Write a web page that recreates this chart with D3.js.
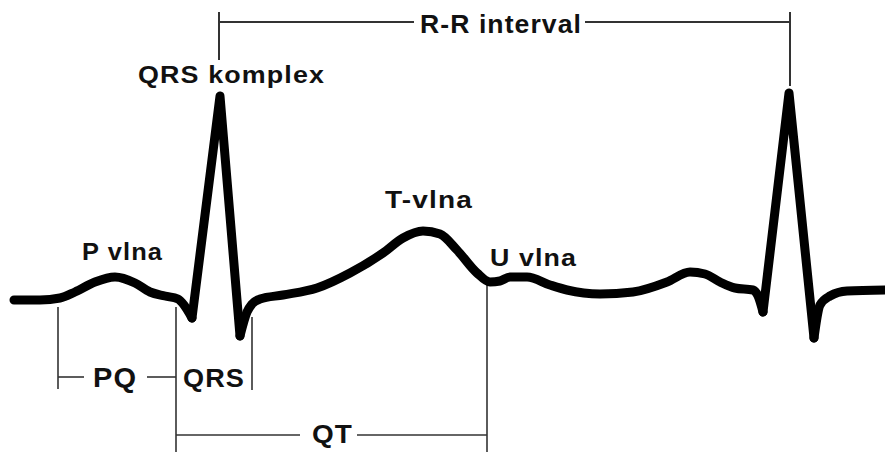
<!DOCTYPE html>
<html>
<head>
<meta charset="utf-8">
<script src="https://cdn.jsdelivr.net/npm/d3@7"></script>
<style>
  body { margin: 0; background: #fff; }
  text { font-family: "Liberation Sans", Arial, sans-serif; font-weight: bold; fill: #111; letter-spacing: 1px; }
</style>
</head>
<body>
<script>
// ECG trace, time in ms and amplitude in mV
const timeMs = [28, 80, 120, 150, 190, 230, 270, 300, 330, 356, 368, 384, 440, 480, 494, 504, 520, 566, 634, 700, 766, 806, 846, 880, 914, 954, 980, 1000, 1020, 1054, 1100, 1134, 1200, 1266, 1334, 1380, 1410, 1440, 1470, 1506, 1516, 1526, 1578, 1628, 1640, 1660, 1694, 1770];
const voltage = [-0.01, -0.01, 0, 0.03, 0.08, 0.105, 0.075, 0.03, 0.01, -0.005, -0.035, -0.1, 1.01, -0.19, -0.07, -0.03, -0.005, 0.015, 0.05, 0.125, 0.225, 0.3, 0.335, 0.32, 0.24, 0.125, 0.08, 0.085, 0.105, 0.105, 0.065, 0.04, 0.02, 0.03, 0.08, 0.13, 0.12, 0.08, 0.05, 0.04, 0.01, -0.07, 1.025, -0.2, -0.035, 0.01, 0.035, 0.04];

// indexes where the trace runs straight (Q -> R -> S)
const spikes = [[11, 13], [41, 43]];

// timing marks (ms)
const rPeaks = [438, 1580];
const pqStart = 116;
const qStart = 352;
const qrsEnd = 504;
const tEnd = 974;

const waveLabels = ["P vlna", "QRS komplex", "T-vlna", "U vlna"];
const intervalLabels = ["R-R interval", "PQ", "QRS", "QT"];

const width = 885;
const height = 452;

const x = d3.scaleLinear().domain([0, 1770]).range([0, width]);
const y = d3.scaleLinear().domain([-0.77, 1.49]).range([height, 0]);

const svg = d3.select("body").append("svg")
  .attr("width", width)
  .attr("height", height);

svg.append("rect").attr("width", width).attr("height", height).attr("fill", "#fff");

const points = timeMs.map((t, i) => [t, voltage[i]]);

// split the trace into smooth pieces and straight spikes
const pieces = [];
let from = 0;
spikes.forEach(([a, b]) => {
  pieces.push({ pts: points.slice(from, a + 1), curve: d3.curveMonotoneX });
  pieces.push({ pts: points.slice(a, b + 1), curve: d3.curveLinear });
  from = b;
});
pieces.push({ pts: points.slice(from), curve: d3.curveMonotoneX });

// annotation brackets
const ann = svg.append("g").attr("stroke", "#333").attr("fill", "none");

function vline(t, v1, v2, w) {
  ann.append("line")
    .attr("x1", x(t)).attr("x2", x(t))
    .attr("y1", y(v1)).attr("y2", y(v2))
    .attr("stroke-width", w || 1.6);
}
function hline(x1, x2, py, w) {
  ann.append("line")
    .attr("x1", x1).attr("x2", x2)
    .attr("y1", py).attr("y2", py)
    .attr("stroke-width", w || 1.6);
}

// label helper, stretched to the width seen in the picture
function label(txt, px, py, size, len) {
  return svg.append("text")
    .attr("x", px).attr("y", py)
    .attr("font-size", size)
    .attr("textLength", len)
    .attr("lengthAdjust", "spacingAndGlyphs")
    .text(txt);
}

// R-R interval
const rrY = y(1.38);
vline(rPeaks[0], 1.43, 1.19, 2);
vline(rPeaks[1], 1.43, 1.06, 2);
const rrStart = 420, rrLen = 162;
hline(x(rPeaks[0]), rrStart - 6, rrY, 2.2);
hline(rrStart + rrLen + 3, x(rPeaks[1]), rrY, 2.2);
label(intervalLabels[0], rrStart, y(1.325), 25, rrLen);

// PQ
const pqY = y(-0.395);
vline(pqStart, -0.045, -0.455);
vline(qStart, -0.045, -0.77);
const pqTextX = 93, pqLen = 44;
hline(x(pqStart), pqTextX - 9, pqY);
hline(pqTextX + pqLen + 10, x(qStart), pqY);
label(intervalLabels[1], pqTextX, y(-0.445), 28, pqLen);

// QRS
vline(qrsEnd, -0.095, -0.46);
label(intervalLabels[2], 183, y(-0.445), 25, 62);

// QT
const qtY = y(-0.685);
vline(tEnd, 0.065, -0.77);
const qtTextX = 312, qtLen = 41;
hline(x(qStart), qtTextX - 12, qtY);
hline(qtTextX + qtLen + 4, x(tEnd), qtY);
label(intervalLabels[3], qtTextX, y(-0.725), 25, qtLen);

// trace
const line = d3.line().x(d => x(d[0])).y(d => y(d[1]));
svg.append("g").selectAll("path")
  .data(pieces)
  .join("path")
  .attr("d", d => line.curve(d.curve)(d.pts))
  .attr("fill", "none")
  .attr("stroke", "#000")
  .attr("stroke-width", 9)
  .attr("stroke-linejoin", "round")
  .attr("stroke-linecap", "round");

// wave names
label(waveLabels[0], 82, y(0.19), 23, 81);
label(waveLabels[1], 138, y(1.075), 24, 187);
label(waveLabels[2], 385, y(0.45), 24, 88);
label(waveLabels[3], 490, y(0.16), 24, 87);
</script>
</body>
</html>
